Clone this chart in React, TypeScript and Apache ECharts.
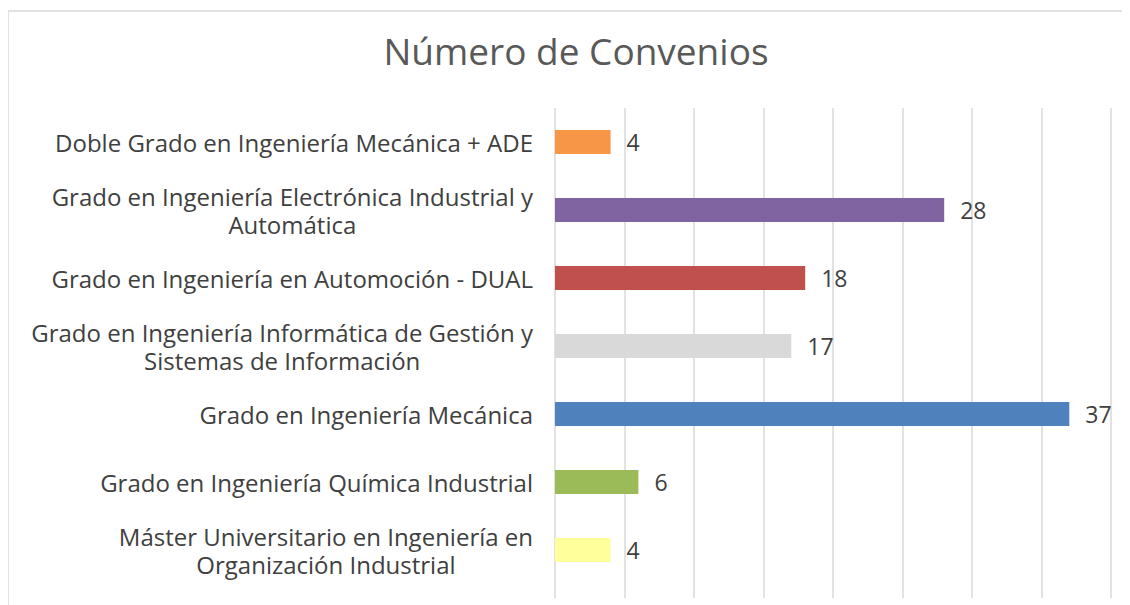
import React, { useEffect, useRef } from "react";
import * as echarts from "echarts";

const categories = [
  "Doble Grado en Ingeniería Mecánica + ADE",
  "Grado en Ingeniería Electrónica Industrial y\nAutomática",
  "Grado en Ingeniería en Automoción - DUAL",
  "Grado en Ingeniería Informática de Gestión y\nSistemas de Información",
  "Grado en Ingeniería Mecánica",
  "Grado en Ingeniería Química Industrial",
  "Máster Universitario en Ingeniería en\nOrganización Industrial",
];
const values = [4, 28, 18, 17, 37, 6, 4];
const colors = ["#F79646", "#8064A2", "#C0504D", "#D9D9D9", "#4F81BD", "#9BBB59", "#FFFF9B"];
const title = "Número de Convenios";

export default function App() {
  const ref = useRef<HTMLDivElement>(null);
  useEffect(() => {
    if (!ref.current) return;
    const chart = echarts.init(ref.current, undefined, { renderer: "svg" });
    const font = "Open Sans";
    const xCommon = {
      type: "value",
      min: 0,
      max: 40,
      interval: 5,
      axisLabel: { show: false },
      axisLine: { show: false },
      axisTick: { show: false },
    };
    chart.setOption({
      animation: false,
      title: {
        text: title,
        left: 563,
        textAlign: "center",
        top: 19,
        textStyle: { fontFamily: font, fontSize: 37, fontWeight: "normal", color: "#595959" },
      },
      graphic: [
        {
          type: "rect",
          shape: { x: 0, y: 3, width: 1140, height: 620 },
          style: { fill: "none", stroke: "#D9D9D9", lineWidth: 1.5 },
          silent: true,
        },
      ],
      grid: [
        { left: 547, right: 19, top: 100, bottom: 21, containLabel: false },
        { left: 547, right: 19, top: 100, bottom: 7, containLabel: false },
      ],
      xAxis: [
        { ...xCommon, gridIndex: 0, splitLine: { show: false } },
        { ...xCommon, gridIndex: 1, splitLine: { show: true, lineStyle: { color: "#D9D9D9", width: 1.5 } } },
      ],
      yAxis: [
        {
          type: "category",
          gridIndex: 0,
          inverse: true,
          data: categories,
          axisLine: { show: false },
          axisTick: { show: false },
          axisLabel: {
            margin: 22,
            fontFamily: font,
            fontSize: 24,
            color: "#404040",
            lineHeight: 28,
            align: "right",
            formatter: (v: string) =>
              v
                .split("\n")
                .map((l) => "{c|" + l + "}")
                .join("\n"),
            rich: {
              c: { align: "center", fontFamily: font, fontSize: 24, color: "#404040", lineHeight: 28 },
            },
          },
        },
        {
          type: "category",
          gridIndex: 1,
          show: false,
          data: [],
        },
      ],
      series: [
        {
          type: "bar",
          xAxisIndex: 0,
          yAxisIndex: 0,
          barWidth: 24,
          data: values.map((v, i) => ({ value: v, itemStyle: { color: colors[i] } })),
          label: {
            show: true,
            position: "right",
            distance: 16,
            fontFamily: font,
            fontSize: 23,
            color: "#404040",
          },
        },
      ],
    });
    return () => chart.dispose();
  }, []);
  return <div ref={ref} style={{ width: 1122, height: 597 }} />;
}
